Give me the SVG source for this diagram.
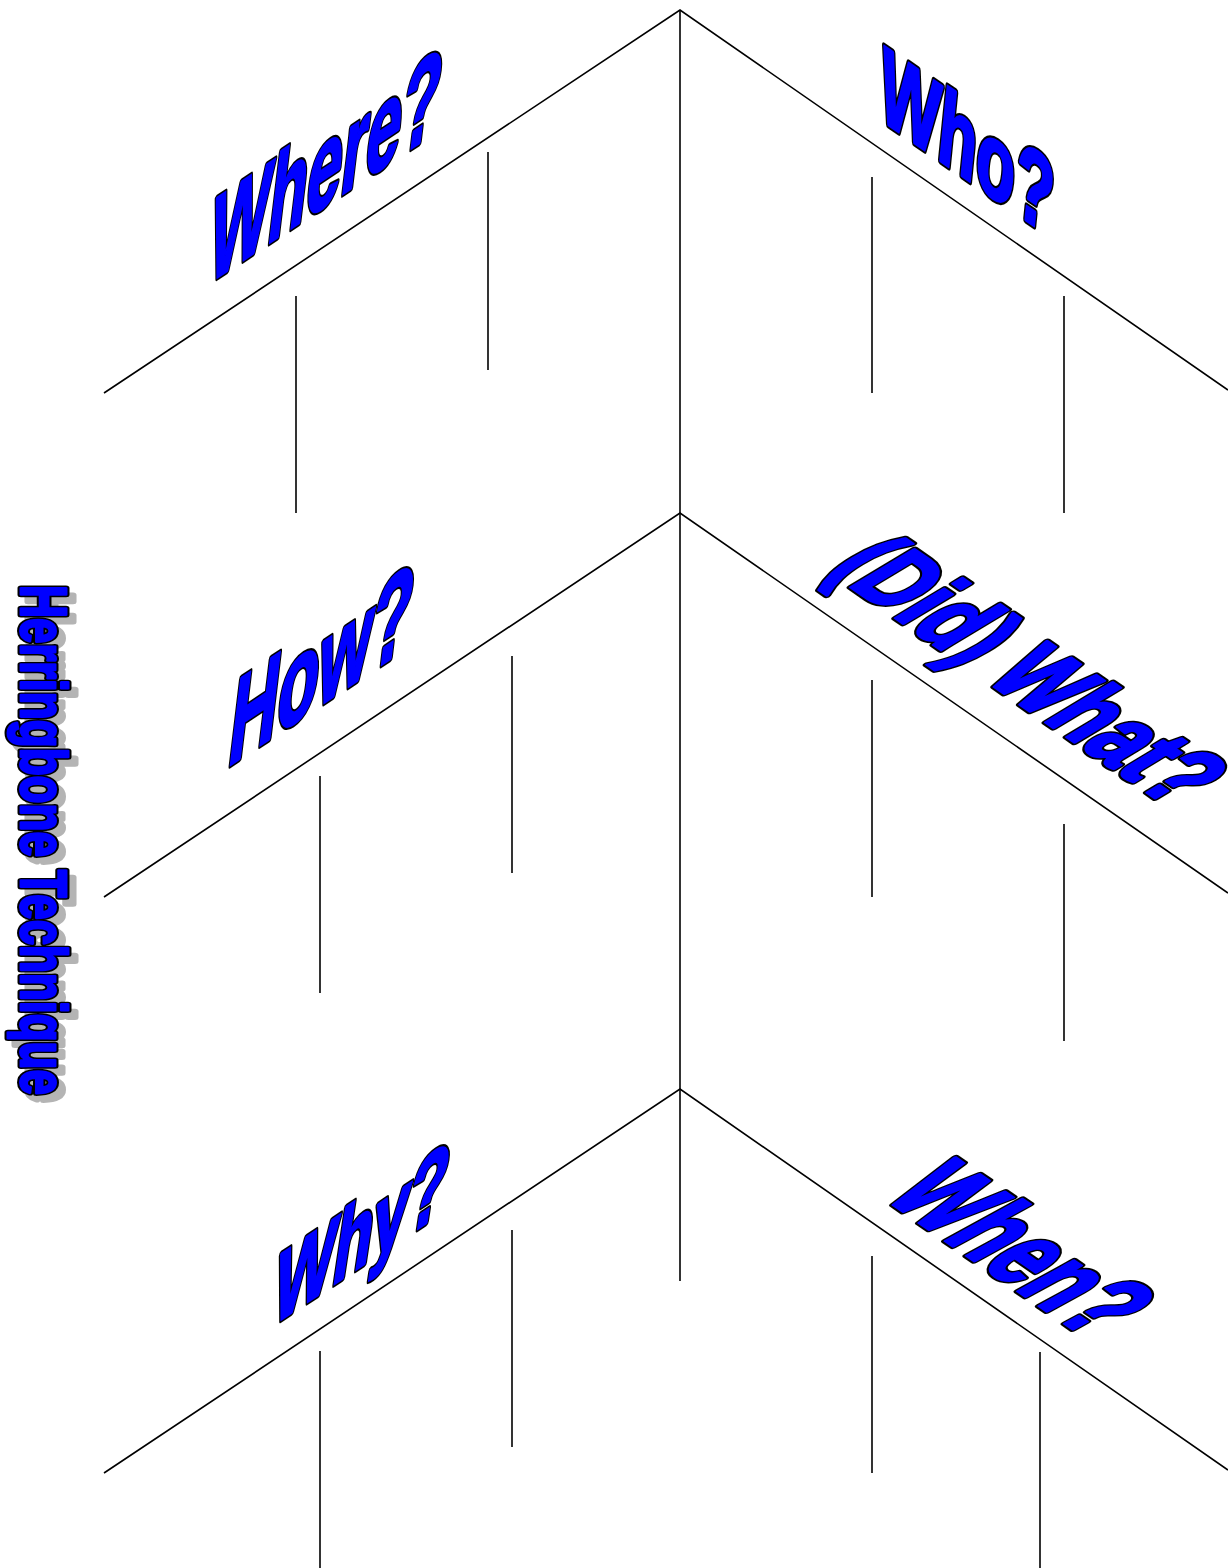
<svg xmlns="http://www.w3.org/2000/svg" xmlns:xlink="http://www.w3.org/1999/xlink" width="1228" height="1568" viewBox="0 0 1228 1568">
<style>
.ln{stroke:#000;stroke-width:1.6;fill:none}
.f{font-family:"Liberation Sans",Arial,sans-serif;font-weight:bold}
.o{fill:#000;stroke:#000;stroke-width:7;stroke-linejoin:round}
.i{fill:#0000ff;stroke:#0000ff;stroke-width:3;stroke-linejoin:round}
.s{fill:#b4b4b4;stroke:#b4b4b4;stroke-width:7;stroke-linejoin:round}
</style>
<defs>
<text id="t-title" class="f" font-size="64" textLength="510" lengthAdjust="spacingAndGlyphs" transform="translate(21,585) rotate(90)">Herringbone Technique</text>
<text id="t-where" class="f" font-size="126" textLength="230" lengthAdjust="spacingAndGlyphs" transform="matrix(1,-0.665,-0.12,1,206,285)">Where?</text>
<text id="t-who" class="f" font-size="103" textLength="173" lengthAdjust="spacingAndGlyphs" transform="matrix(1,0.693,-0.1,1,877,117)">Who?</text>
<text id="t-how" class="f" font-size="126" textLength="182" lengthAdjust="spacingAndGlyphs" transform="matrix(1,-0.665,-0.12,1,226,768)">How?</text>
<text id="t-didwhat" class="f" font-size="98" textLength="420" lengthAdjust="spacingAndGlyphs" transform="matrix(0.822,0.570,-0.940,0.565,826,570)">(Did) What?</text>
<text id="t-why" class="f" font-size="106" textLength="173" lengthAdjust="spacingAndGlyphs" transform="matrix(1,-0.665,-0.15,1,270,1327)">Why?</text>
<text id="t-when" class="f" font-size="108" textLength="252" lengthAdjust="spacingAndGlyphs" transform="matrix(0.822,0.570,-0.981,0.537,882,1197)">When?</text>
</defs>
<rect width="1228" height="1568" fill="#fff"/>
<g id="connectors">
<polyline class="ln" points="104,393 680,10 1228,390"/>
<polyline class="ln" points="104,897 680,513 1228,893"/>
<polyline class="ln" points="104,1473 680,1089 1228,1470"/>
<line class="ln" x1="680" y1="10" x2="680" y2="1281"/>
<line class="ln" x1="488" y1="152" x2="488" y2="370"/>
<line class="ln" x1="296" y1="296" x2="296" y2="513"/>
<line class="ln" x1="872" y1="177" x2="872" y2="393"/>
<line class="ln" x1="1064" y1="296" x2="1064" y2="513"/>
<line class="ln" x1="512" y1="656" x2="512" y2="873"/>
<line class="ln" x1="320" y1="776" x2="320" y2="993"/>
<line class="ln" x1="872" y1="680" x2="872" y2="897"/>
<line class="ln" x1="1064" y1="824" x2="1064" y2="1041"/>
<line class="ln" x1="512" y1="1230" x2="512" y2="1447"/>
<line class="ln" x1="320" y1="1351" x2="320" y2="1568"/>
<line class="ln" x1="872" y1="1256" x2="872" y2="1473"/>
<line class="ln" x1="1040" y1="1352" x2="1040" y2="1568"/>
</g>
<g id="title">
<use href="#t-title" xlink:href="#t-title" class="s" transform="translate(7,7)"/>
<use href="#t-title" xlink:href="#t-title" class="o"/>
<use href="#t-title" xlink:href="#t-title" class="i"/>
</g>
<g id="where">
<use href="#t-where" xlink:href="#t-where" class="o"/>
<use href="#t-where" xlink:href="#t-where" class="i"/>
</g>
<g id="who">
<use href="#t-who" xlink:href="#t-who" class="o"/>
<use href="#t-who" xlink:href="#t-who" class="i"/>
</g>
<g id="how">
<use href="#t-how" xlink:href="#t-how" class="o"/>
<use href="#t-how" xlink:href="#t-how" class="i"/>
</g>
<g id="did-what">
<use href="#t-didwhat" xlink:href="#t-didwhat" class="o"/>
<use href="#t-didwhat" xlink:href="#t-didwhat" class="i"/>
</g>
<g id="why">
<use href="#t-why" xlink:href="#t-why" class="o"/>
<use href="#t-why" xlink:href="#t-why" class="i"/>
</g>
<g id="when">
<use href="#t-when" xlink:href="#t-when" class="o"/>
<use href="#t-when" xlink:href="#t-when" class="i"/>
</g>
</svg>
